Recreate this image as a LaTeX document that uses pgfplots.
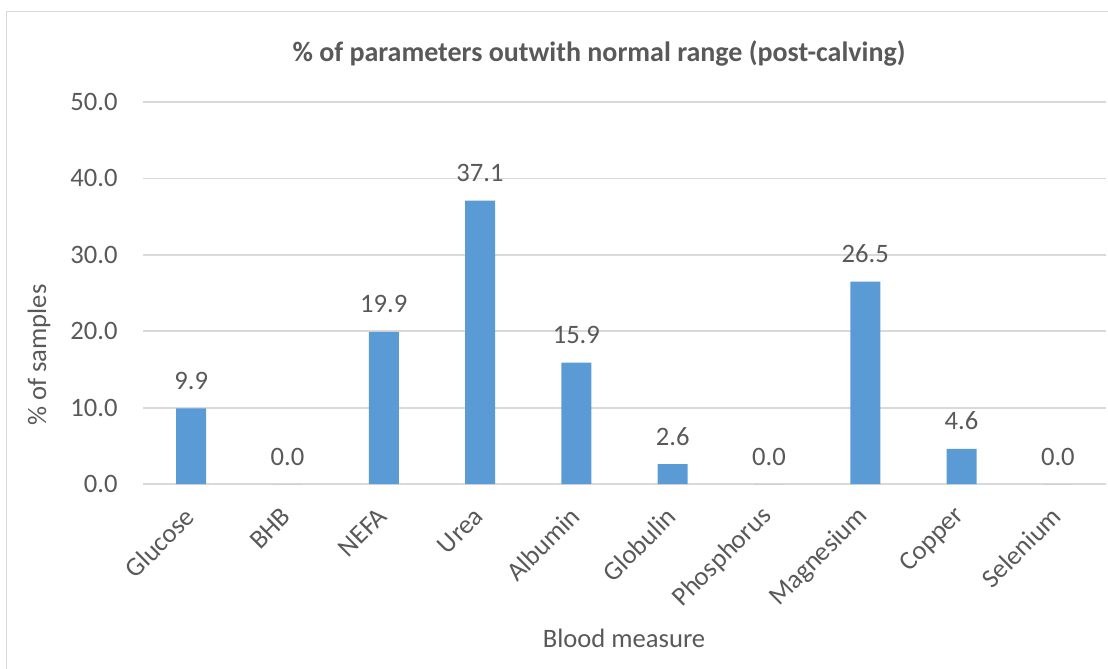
\documentclass[border=0pt]{standalone}
\usepackage{pgfplots}
\pgfplotsset{compat=1.18}
\usepackage{fontspec}
\setmainfont{Carlito}
\definecolor{barblue}{HTML}{5B9BD5}
\definecolor{txtgray}{HTML}{595959}
\definecolor{gridgray}{HTML}{D9D9D9}
\newcommand{\lblfont}{\fontsize{13.3bp}{16bp}\selectfont}
\begin{document}
\begin{tikzpicture}
\useasboundingbox (0bp,0bp) rectangle (554bp,-334.5bp);
\draw[gridgray, line width=0.9bp] (3.25bp,-340bp) -- (3.25bp,-5.75bp) -- (560bp,-5.75bp);
\node[anchor=base, font=\fontsize{14bp}{17bp}\bfseries\selectfont, text=txtgray, inner sep=0pt] at (299.5bp,-30.5bp) {\% of parameters outwith normal range (post-calving)};
\node[rotate=90, anchor=center, font=\lblfont, text=txtgray, inner sep=0pt] at (19.5bp,-177.5bp) {\% of samples};
\node[anchor=base, font=\lblfont, text=txtgray, inner sep=0pt] at (312bp,-323.5bp) {Blood measure};
\coordinate (O) at (71.5bp,-242bp);
\begin{axis}[
  at={(O)}, anchor=south west,
  width=481.5bp, height=191bp, scale only axis,
  xmin=-0.5, xmax=9.5, ymin=0, ymax=50,
  xtick={0,...,9},
  xticklabels={Glucose,BHB,NEFA,Urea,Albumin,Globulin,Phosphorus,Magnesium,Copper,Selenium},
  ytick={0,10,...,50},
  ymajorgrids,
  major grid style={gridgray, line width=0.9bp},
  axis line style={draw=none},
  major tick length=0pt,
  /pgf/number format/.cd, fixed, fixed zerofill, precision=1, assume math mode=true,
  /pgfplots/.cd,
  tick label style={font=\lblfont, text=txtgray},
  yticklabel style={anchor=east, inner sep=0pt, xshift=-12.5bp},
  xticklabel style={xshift=-0.5bp, rotate=45, anchor=east, inner sep=0pt},
  xticklabel shift=14bp,
  ybar, bar width=15bp,
  nodes near coords,
  every node near coord/.append style={font=\lblfont, text=txtgray, anchor=base, inner sep=0pt, yshift=9.5bp},
]
\addplot[fill=barblue, draw=none] coordinates {(0,9.9)(1,0)(2,19.9)(3,37.1)(4,15.9)(5,2.6)(6,0)(7,26.5)(8,4.6)(9,0)};
\end{axis}
\end{tikzpicture}
\end{document}
